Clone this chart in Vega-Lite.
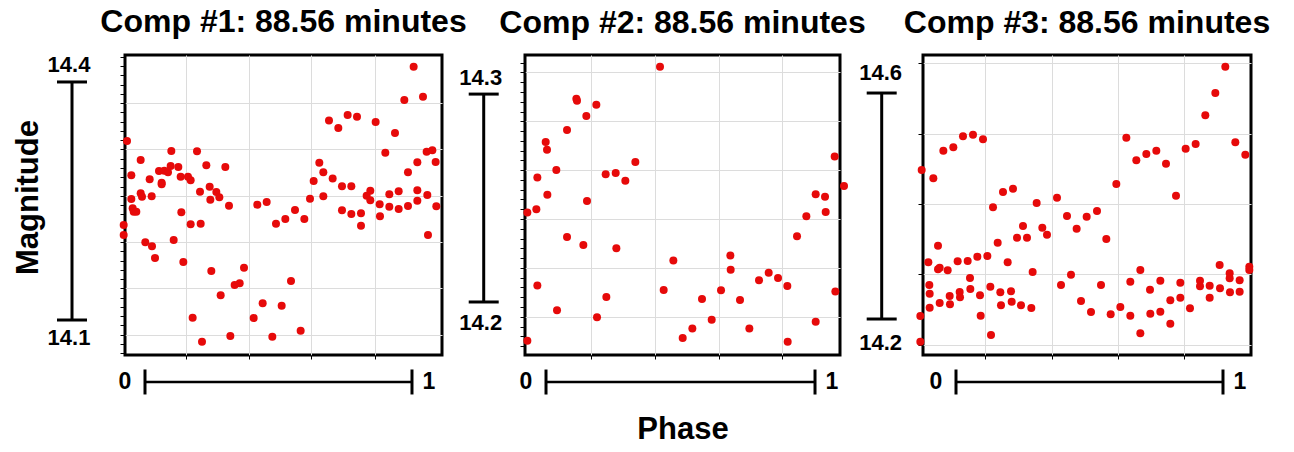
{
  "$schema": "https://vega.github.io/schema/vega-lite/v6.json",
  "padding": {"left": 11, "top": 4, "right": 0, "bottom": 0},
  "bounds": "flush",
  "spacing": 83,
  "config": {
    "font": "Liberation Sans",
    "view": {"stroke": "black", "strokeWidth": 3},
    "axis": {"gridColor": "#dcdcdc", "gridWidth": 1, "tickColor": "black", "tickWidth": 1, "domain": false, "labels": false},
    "title": {"font": "Liberation Sans", "fontSize": 32, "fontWeight": "bold", "color": "black", "anchor": "middle", "offset": 15}
  },
  "datasets": {
    "p1": [
      {"phase":-0.0674,"mag":14.3256},{"phase":-0.0799,"mag":14.2197},{"phase":-0.0799,"mag":14.2071},{"phase":-0.0512,"mag":14.2824},{"phase":-0.0512,"mag":14.2525},{"phase":-0.0462,"mag":14.2408},{"phase":-0.0424,"mag":14.2366},{"phase":-0.0325,"mag":14.2366},{"phase":-0.0162,"mag":14.3017},{"phase":-0.0162,"mag":14.2597},{"phase":-0.0112,"mag":14.2555},{"phase":0.0012,"mag":14.1979},{"phase":0.0175,"mag":14.2773},{"phase":0.025,"mag":14.2559},{"phase":0.0262,"mag":14.1929},{"phase":0.0375,"mag":14.1782},{"phase":0.0524,"mag":14.2878},{"phase":0.0624,"mag":14.2731},{"phase":0.0624,"mag":14.271},{"phase":0.0724,"mag":14.2882},{"phase":0.0861,"mag":14.2861},{"phase":0.0961,"mag":14.2941},{"phase":0.0986,"mag":14.313},{"phase":0.1074,"mag":14.2008},{"phase":0.1248,"mag":14.2929},{"phase":0.1336,"mag":14.2807},{"phase":0.1361,"mag":14.2357},{"phase":0.1436,"mag":14.1731},{"phase":0.161,"mag":14.2807},{"phase":0.171,"mag":14.276},{"phase":0.171,"mag":14.2206},{"phase":0.1785,"mag":14.1029},{"phase":0.1948,"mag":14.3126},{"phase":0.206,"mag":14.2618},{"phase":0.2085,"mag":14.2214},{"phase":0.2135,"mag":14.0727},{"phase":0.2297,"mag":14.295},{"phase":0.2422,"mag":14.2681},{"phase":0.2447,"mag":14.2517},{"phase":0.2484,"mag":14.1618},{"phase":0.2672,"mag":14.2613},{"phase":0.2784,"mag":14.2546},{"phase":0.2834,"mag":14.1311},{"phase":0.3009,"mag":14.2929},{"phase":0.3146,"mag":14.2441},{"phase":0.3196,"mag":14.0798},{"phase":0.3358,"mag":14.1441},{"phase":0.3546,"mag":14.1462},{"phase":0.3708,"mag":14.166},{"phase":0.407,"mag":14.1025},{"phase":0.4207,"mag":14.2454},{"phase":0.4407,"mag":14.121},{"phase":0.4557,"mag":14.2487},{"phase":0.4769,"mag":14.079},{"phase":0.4906,"mag":14.2214},{"phase":0.5119,"mag":14.1181},{"phase":0.5256,"mag":14.2273},{"phase":0.5468,"mag":14.1492},{"phase":0.5618,"mag":14.2387},{"phase":0.583,"mag":14.0866},{"phase":0.5968,"mag":14.2273},{"phase":0.618,"mag":14.2529},{"phase":0.6317,"mag":14.2752},{"phase":0.6529,"mag":14.2983},{"phase":0.6679,"mag":14.2861},{"phase":0.6679,"mag":14.2559},{"phase":0.6891,"mag":14.3513},{"phase":0.7029,"mag":14.2782},{"phase":0.7241,"mag":14.342},{"phase":0.7378,"mag":14.2685},{"phase":0.7378,"mag":14.2382},{"phase":0.759,"mag":14.3584},{"phase":0.7728,"mag":14.2685},{"phase":0.7728,"mag":14.2336},{"phase":0.794,"mag":14.3563},{"phase":0.809,"mag":14.2345},{"phase":0.809,"mag":14.2189},{"phase":0.8302,"mag":14.2567},{"phase":0.8439,"mag":14.263},{"phase":0.8439,"mag":14.2508},{"phase":0.8639,"mag":14.3496},{"phase":0.8789,"mag":14.2458},{"phase":0.8801,"mag":14.2307},{"phase":0.9001,"mag":14.3109},{"phase":0.9151,"mag":14.2584},{"phase":0.9151,"mag":14.2429},{"phase":0.9363,"mag":14.3357},{"phase":0.9501,"mag":14.2622},{"phase":0.9501,"mag":14.2399},{"phase":0.9713,"mag":14.3773},{"phase":0.985,"mag":14.2861},{"phase":0.985,"mag":14.2437},{"phase":1.0062,"mag":14.4193},{"phase":1.02,"mag":14.2987},{"phase":1.02,"mag":14.2634},{"phase":1.02,"mag":14.2504},{"phase":1.0412,"mag":14.3815},{"phase":1.0549,"mag":14.3122},{"phase":1.0574,"mag":14.2576},{"phase":1.0599,"mag":14.2071},{"phase":1.0762,"mag":14.3139},{"phase":1.0886,"mag":14.2992},{"phase":1.0911,"mag":14.2433}
    ],
    "p2": [
      {"phase":-0.0694,"mag":14.2431},{"phase":-0.0694,"mag":14.1814},{"phase":-0.0359,"mag":14.2446},{"phase":-0.0322,"mag":14.2599},{"phase":-0.0322,"mag":14.2079},{"phase":-0.0012,"mag":14.2769},{"phase":0.0037,"mag":14.2732},{"phase":0.005,"mag":14.2516},{"phase":0.0384,"mag":14.2635},{"phase":0.0409,"mag":14.196},{"phase":0.0781,"mag":14.2827},{"phase":0.0781,"mag":14.2313},{"phase":0.1128,"mag":14.2978},{"phase":0.1152,"mag":14.2968},{"phase":0.1388,"mag":14.2274},{"phase":0.1499,"mag":14.2894},{"phase":0.1524,"mag":14.2486},{"phase":0.1871,"mag":14.2949},{"phase":0.1896,"mag":14.1926},{"phase":0.2218,"mag":14.2615},{"phase":0.2243,"mag":14.2024},{"phase":0.259,"mag":14.262},{"phase":0.2615,"mag":14.2258},{"phase":0.2949,"mag":14.2583},{"phase":0.3321,"mag":14.2673},{"phase":0.4238,"mag":14.3131},{"phase":0.4374,"mag":14.2058},{"phase":0.4734,"mag":14.2199},{"phase":0.5081,"mag":14.1827},{"phase":0.544,"mag":14.1873},{"phase":0.5799,"mag":14.2014},{"phase":0.6159,"mag":14.1915},{"phase":0.6506,"mag":14.2056},{"phase":0.6853,"mag":14.2223},{"phase":0.6865,"mag":14.2155},{"phase":0.7212,"mag":14.201},{"phase":0.7559,"mag":14.1872},{"phase":0.7918,"mag":14.2104},{"phase":0.8278,"mag":14.2141},{"phase":0.8625,"mag":14.2115},{"phase":0.8971,"mag":14.2077},{"phase":0.8984,"mag":14.1809},{"phase":0.9331,"mag":14.2316},{"phase":0.9678,"mag":14.2412},{"phase":1.0025,"mag":14.2518},{"phase":1.0025,"mag":14.1905},{"phase":1.0372,"mag":14.2506},{"phase":1.0397,"mag":14.2433},{"phase":1.0731,"mag":14.27},{"phase":1.0756,"mag":14.2051},{"phase":1.1078,"mag":14.2558}
    ],
    "p3": [
      {"phase":-0.1286,"mag":14.4637},{"phase":-0.1336,"mag":14.2053},{"phase":-0.1336,"mag":14.1599},{"phase":-0.1036,"mag":14.3003},{"phase":-0.0999,"mag":14.2602},{"phase":-0.0986,"mag":14.2448},{"phase":-0.0986,"mag":14.2201},{"phase":-0.0849,"mag":14.449},{"phase":-0.0674,"mag":14.3298},{"phase":-0.0674,"mag":14.2879},{"phase":-0.0612,"mag":14.2909},{"phase":-0.0612,"mag":14.2283},{"phase":-0.0474,"mag":14.4979},{"phase":-0.0312,"mag":14.2861},{"phase":-0.0237,"mag":14.2407},{"phase":-0.0225,"mag":14.226},{"phase":-0.01,"mag":14.5038},{"phase":0.0062,"mag":14.3021},{"phase":0.0137,"mag":14.2478},{"phase":0.015,"mag":14.2384},{"phase":0.0262,"mag":14.5233},{"phase":0.0437,"mag":14.3027},{"phase":0.0524,"mag":14.2726},{"phase":0.0537,"mag":14.2531},{"phase":0.0637,"mag":14.5263},{"phase":0.0799,"mag":14.3103},{"phase":0.0899,"mag":14.2419},{"phase":0.0924,"mag":14.2059},{"phase":0.1011,"mag":14.518},{"phase":0.1174,"mag":14.3115},{"phase":0.1286,"mag":14.2572},{"phase":0.1311,"mag":14.1717},{"phase":0.1386,"mag":14.3977},{"phase":0.1561,"mag":14.3351},{"phase":0.166,"mag":14.2472},{"phase":0.1685,"mag":14.2242},{"phase":0.176,"mag":14.4248},{"phase":0.1935,"mag":14.3003},{"phase":0.206,"mag":14.249},{"phase":0.2085,"mag":14.2307},{"phase":0.2135,"mag":14.4307},{"phase":0.2285,"mag":14.344},{"phase":0.2434,"mag":14.2242},{"phase":0.2509,"mag":14.3646},{"phase":0.2659,"mag":14.344},{"phase":0.2821,"mag":14.2195},{"phase":0.2871,"mag":14.2832},{"phase":0.3021,"mag":14.4053},{"phase":0.3233,"mag":14.3617},{"phase":0.3408,"mag":14.3493},{"phase":0.3783,"mag":14.4148},{"phase":0.3933,"mag":14.2602},{"phase":0.4157,"mag":14.3823},{"phase":0.4307,"mag":14.2785},{"phase":0.4519,"mag":14.3599},{"phase":0.4682,"mag":14.2319},{"phase":0.4894,"mag":14.3811},{"phase":0.5056,"mag":14.2124},{"phase":0.5281,"mag":14.3912},{"phase":0.5431,"mag":14.2602},{"phase":0.563,"mag":14.3416},{"phase":0.5793,"mag":14.2083},{"phase":0.6005,"mag":14.439},{"phase":0.6155,"mag":14.2212},{"phase":0.638,"mag":14.521},{"phase":0.6529,"mag":14.2661},{"phase":0.6529,"mag":14.2059},{"phase":0.6754,"mag":14.4808},{"phase":0.6904,"mag":14.2867},{"phase":0.6904,"mag":14.1746},{"phase":0.7129,"mag":14.4921},{"phase":0.7266,"mag":14.2519},{"phase":0.7278,"mag":14.2094},{"phase":0.7503,"mag":14.4979},{"phase":0.7653,"mag":14.2679},{"phase":0.7653,"mag":14.213},{"phase":0.7865,"mag":14.4749},{"phase":0.8027,"mag":14.233},{"phase":0.8027,"mag":14.1917},{"phase":0.824,"mag":14.4183},{"phase":0.8402,"mag":14.2643},{"phase":0.8402,"mag":14.2378},{"phase":0.8602,"mag":14.5015},{"phase":0.8764,"mag":14.2189},{"phase":0.8976,"mag":14.5098},{"phase":0.9139,"mag":14.2679},{"phase":0.9139,"mag":14.2578},{"phase":0.9338,"mag":14.5605},{"phase":0.9501,"mag":14.259},{"phase":0.9501,"mag":14.2378},{"phase":0.9713,"mag":14.6},{"phase":0.9875,"mag":14.2956},{"phase":0.9888,"mag":14.2543},{"phase":1.0087,"mag":14.6466},{"phase":1.025,"mag":14.2808},{"phase":1.025,"mag":14.272},{"phase":1.0262,"mag":14.2472},{"phase":1.0462,"mag":14.5127},{"phase":1.0624,"mag":14.2684},{"phase":1.0624,"mag":14.2484},{"phase":1.0836,"mag":14.4909},{"phase":1.0986,"mag":14.2926},{"phase":1.0986,"mag":14.2867}
    ]
  },
  "hconcat": [
    {
      "width": 317, "height": 300,
      "title": "Comp #1: 88.56 minutes",
      "data": {"values": [{}]},
      "resolve": {"axis": {"x": "independent", "y": "independent"}},
      "layer": [
        {"data": {"name": "p1"},
         "mark": {"type": "circle", "size": 64, "color": "#e60a0a", "opacity": 1},
         "encoding": {
           "x": {"field": "phase", "type": "quantitative", "scale": {"domain": [-0.0749, 1.1124], "nice": false, "zero": false},
                 "axis": {"values": [0.1536, 0.3904, 0.6227, 0.86], "grid": true, "ticks": true, "tickSize": 4, "title": null}},
           "y": {"field": "mag", "type": "quantitative", "scale": {"domain": [14.0559, 14.434], "nice": false, "zero": false},
                 "axis": {"values": [14.0582,14.0698,14.0815,14.0932,14.1048,14.1165,14.1282,14.1399,14.1515,14.1632,14.1749,14.1865,14.1982,14.2099,14.2216,14.2332,14.2449,14.2566,14.2682,14.2799,14.2916,14.3033,14.3149,14.3266,14.3383,14.3499,14.3616,14.3733,14.385,14.3966,14.4083,14.42,14.4316],
                          "grid": false, "ticks": true, "tickSize": 5, "title": "Magnitude", "titleFontSize": 31, "titleFontWeight": "bold", "titleFont": "Liberation Sans", "titleColor": "black", "titlePadding": 75, "titleY": 142}}
         }},
        {"mark": {"type": "rule", "color": "black", "strokeWidth": 3},
         "encoding": {
           "x": {"datum": -0.2734, "type": "quantitative", "axis": null},
           "y": {"datum": 14.1, "type": "quantitative", "axis": {"orient": "right", "values": [14.0815, 14.1399, 14.1982, 14.2566, 14.3149, 14.3733], "grid": true, "ticks": false, "title": null}},
           "y2": {"datum": 14.4}
         }},
        {"mark": {"type": "tick", "orient": "horizontal", "color": "black", "size": 30, "thickness": 3, "opacity": 1},
         "encoding": {"x": {"datum": -0.2734, "type": "quantitative", "axis": null}, "y": {"datum": 14.1, "type": "quantitative", "axis": null}}},
        {"mark": {"type": "tick", "orient": "horizontal", "color": "black", "size": 30, "thickness": 3, "opacity": 1},
         "encoding": {"x": {"datum": -0.2734, "type": "quantitative", "axis": null}, "y": {"datum": 14.4, "type": "quantitative", "axis": null}}},
        {"mark": {"type": "text", "text": "14.1", "fontSize": 22, "fontWeight": "bold", "color": "black", "dy": 18, "dx": -3, "baseline": "middle", "align": "center"},
         "encoding": {"x": {"datum": -0.2734, "type": "quantitative", "axis": null}, "y": {"datum": 14.1, "type": "quantitative", "axis": null}}},
        {"mark": {"type": "text", "text": "14.4", "fontSize": 22, "fontWeight": "bold", "color": "black", "dy": -17, "dx": -3, "baseline": "middle", "align": "center"},
         "encoding": {"x": {"datum": -0.2734, "type": "quantitative", "axis": null}, "y": {"datum": 14.4, "type": "quantitative", "axis": null}}},
        {"mark": {"type": "rule", "color": "black", "strokeWidth": 2.5},
         "encoding": {"x": {"datum": 0, "type": "quantitative", "axis": null}, "x2": {"datum": 1}, "y": {"datum": 14.0219, "type": "quantitative", "axis": null}}},
        {"mark": {"type": "tick", "orient": "vertical", "color": "black", "size": 25, "thickness": 3, "opacity": 1},
         "encoding": {"x": {"datum": 0, "type": "quantitative", "axis": null}, "y": {"datum": 14.0219, "type": "quantitative", "axis": null}}},
        {"mark": {"type": "tick", "orient": "vertical", "color": "black", "size": 25, "thickness": 3, "opacity": 1},
         "encoding": {"x": {"datum": 1, "type": "quantitative", "axis": null}, "y": {"datum": 14.0219, "type": "quantitative", "axis": null}}},
        {"mark": {"type": "text", "text": "0", "fontSize": 23, "fontWeight": "bold", "color": "black", "dx": -20, "baseline": "middle", "align": "center"},
         "encoding": {"x": {"datum": 0, "type": "quantitative", "axis": null}, "y": {"datum": 14.0219, "type": "quantitative", "axis": null}}},
        {"mark": {"type": "text", "text": "1", "fontSize": 23, "fontWeight": "bold", "color": "black", "dx": 17, "baseline": "middle", "align": "center"},
         "encoding": {"x": {"datum": 1, "type": "quantitative", "axis": null}, "y": {"datum": 14.0219, "type": "quantitative", "axis": null}}}
      ]
    },
    {
      "width": 315, "height": 300,
      "title": "Comp #2: 88.56 minutes",
      "data": {"values": [{}]},
      "resolve": {"axis": {"x": "independent", "y": "independent"}},
      "layer": [
        {"data": {"name": "p2"},
         "mark": {"type": "circle", "size": 64, "color": "#e60a0a", "opacity": 1},
         "encoding": {
           "x": {"field": "phase", "type": "quantitative", "scale": {"domain": [-0.0781, 1.0929], "nice": false, "zero": false},
                 "axis": {"values": [0.1684, 0.4041, 0.6431, 0.8785], "grid": true, "ticks": true, "tickSize": 4, "title": "Phase", "titleFontSize": 31, "titleFontWeight": "bold", "titleFont": "Liberation Sans", "titleColor": "black", "titlePadding": 55}},
           "y": {"field": "mag", "type": "quantitative", "scale": {"domain": [14.1745, 14.3188], "nice": false, "zero": false},
                 "axis": {"values": [14.1788,14.1835,14.1882,14.1929,14.1976,14.2023,14.207,14.2117,14.2164,14.2211,14.2258,14.2305,14.2352,14.2399,14.2446,14.2493,14.254,14.2587,14.2634,14.2681,14.2728,14.2775,14.2822,14.2869,14.2916,14.2963,14.301,14.3057,14.3104,14.3151],
                          "grid": false, "ticks": true, "tickSize": 5, "title": null}}
         }},
        {"mark": {"type": "rule", "color": "black", "strokeWidth": 3},
         "encoding": {
           "x": {"datum": -0.2316, "type": "quantitative", "axis": null},
           "y": {"datum": 14.2, "type": "quantitative", "axis": {"orient": "right", "values": [14.1929, 14.2165, 14.2399, 14.2635, 14.287, 14.3104], "grid": true, "ticks": false, "title": null}},
           "y2": {"datum": 14.3}
         }},
        {"mark": {"type": "tick", "orient": "horizontal", "color": "black", "size": 30, "thickness": 3, "opacity": 1},
         "encoding": {"x": {"datum": -0.2316, "type": "quantitative", "axis": null}, "y": {"datum": 14.2, "type": "quantitative", "axis": null}}},
        {"mark": {"type": "tick", "orient": "horizontal", "color": "black", "size": 30, "thickness": 3, "opacity": 1},
         "encoding": {"x": {"datum": -0.2316, "type": "quantitative", "axis": null}, "y": {"datum": 14.3, "type": "quantitative", "axis": null}}},
        {"mark": {"type": "text", "text": "14.2", "fontSize": 22, "fontWeight": "bold", "color": "black", "dy": 21, "dx": -3, "baseline": "middle", "align": "center"},
         "encoding": {"x": {"datum": -0.2316, "type": "quantitative", "axis": null}, "y": {"datum": 14.2, "type": "quantitative", "axis": null}}},
        {"mark": {"type": "text", "text": "14.3", "fontSize": 22, "fontWeight": "bold", "color": "black", "dy": -16, "dx": -3, "baseline": "middle", "align": "center"},
         "encoding": {"x": {"datum": -0.2316, "type": "quantitative", "axis": null}, "y": {"datum": 14.3, "type": "quantitative", "axis": null}}},
        {"mark": {"type": "rule", "color": "black", "strokeWidth": 2.5},
         "encoding": {"x": {"datum": 0, "type": "quantitative", "axis": null}, "x2": {"datum": 1}, "y": {"datum": 14.1615, "type": "quantitative", "axis": null}}},
        {"mark": {"type": "tick", "orient": "vertical", "color": "black", "size": 25, "thickness": 3, "opacity": 1},
         "encoding": {"x": {"datum": 0, "type": "quantitative", "axis": null}, "y": {"datum": 14.1615, "type": "quantitative", "axis": null}}},
        {"mark": {"type": "tick", "orient": "vertical", "color": "black", "size": 25, "thickness": 3, "opacity": 1},
         "encoding": {"x": {"datum": 1, "type": "quantitative", "axis": null}, "y": {"datum": 14.1615, "type": "quantitative", "axis": null}}},
        {"mark": {"type": "text", "text": "0", "fontSize": 23, "fontWeight": "bold", "color": "black", "dx": -20, "baseline": "middle", "align": "center"},
         "encoding": {"x": {"datum": 0, "type": "quantitative", "axis": null}, "y": {"datum": 14.1615, "type": "quantitative", "axis": null}}},
        {"mark": {"type": "text", "text": "1", "fontSize": 23, "fontWeight": "bold", "color": "black", "dx": 17, "baseline": "middle", "align": "center"},
         "encoding": {"x": {"datum": 1, "type": "quantitative", "axis": null}, "y": {"datum": 14.1615, "type": "quantitative", "axis": null}}}
      ]
    },
    {
      "width": 328, "height": 300,
      "title": "Comp #3: 88.56 minutes",
      "data": {"values": [{}]},
      "resolve": {"axis": {"x": "independent", "y": "independent"}},
      "layer": [
        {"data": {"name": "p3"},
         "mark": {"type": "circle", "size": 64, "color": "#e60a0a", "opacity": 1},
         "encoding": {
           "x": {"field": "phase", "type": "quantitative", "scale": {"domain": [-0.1236, 1.1049], "nice": false, "zero": false},
                 "axis": {"values": [0.1099, 0.3596, 0.6056, 0.8528], "grid": true, "ticks": true, "tickSize": 4, "title": null}},
           "y": {"field": "mag", "type": "quantitative", "scale": {"domain": [14.1363, 14.6673], "nice": false, "zero": false},
                 "axis": {"values": [14.154, 14.2791, 14.403, 14.5269, 14.6526], "grid": true, "ticks": true, "tickSize": 5, "title": null}}
         }},
        {"mark": {"type": "rule", "color": "black", "strokeWidth": 3},
         "encoding": {
           "x": {"datum": -0.2783, "type": "quantitative", "axis": null},
           "y": {"datum": 14.2, "type": "quantitative", "axis": null},
           "y2": {"datum": 14.6}
         }},
        {"mark": {"type": "tick", "orient": "horizontal", "color": "black", "size": 30, "thickness": 3, "opacity": 1},
         "encoding": {"x": {"datum": -0.2783, "type": "quantitative", "axis": null}, "y": {"datum": 14.2, "type": "quantitative", "axis": null}}},
        {"mark": {"type": "tick", "orient": "horizontal", "color": "black", "size": 30, "thickness": 3, "opacity": 1},
         "encoding": {"x": {"datum": -0.2783, "type": "quantitative", "axis": null}, "y": {"datum": 14.6, "type": "quantitative", "axis": null}}},
        {"mark": {"type": "text", "text": "14.2", "fontSize": 22, "fontWeight": "bold", "color": "black", "dy": 24, "dx": -1, "baseline": "middle", "align": "center"},
         "encoding": {"x": {"datum": -0.2783, "type": "quantitative", "axis": null}, "y": {"datum": 14.2, "type": "quantitative", "axis": null}}},
        {"mark": {"type": "text", "text": "14.6", "fontSize": 22, "fontWeight": "bold", "color": "black", "dy": -20, "dx": -1, "baseline": "middle", "align": "center"},
         "encoding": {"x": {"datum": -0.2783, "type": "quantitative", "axis": null}, "y": {"datum": 14.6, "type": "quantitative", "axis": null}}},
        {"mark": {"type": "rule", "color": "black", "strokeWidth": 2.5},
         "encoding": {"x": {"datum": 0, "type": "quantitative", "axis": null}, "x2": {"datum": 1}, "y": {"datum": 14.0885, "type": "quantitative", "axis": null}}},
        {"mark": {"type": "tick", "orient": "vertical", "color": "black", "size": 25, "thickness": 3, "opacity": 1},
         "encoding": {"x": {"datum": 0, "type": "quantitative", "axis": null}, "y": {"datum": 14.0885, "type": "quantitative", "axis": null}}},
        {"mark": {"type": "tick", "orient": "vertical", "color": "black", "size": 25, "thickness": 3, "opacity": 1},
         "encoding": {"x": {"datum": 1, "type": "quantitative", "axis": null}, "y": {"datum": 14.0885, "type": "quantitative", "axis": null}}},
        {"mark": {"type": "text", "text": "0", "fontSize": 23, "fontWeight": "bold", "color": "black", "dx": -20, "baseline": "middle", "align": "center"},
         "encoding": {"x": {"datum": 0, "type": "quantitative", "axis": null}, "y": {"datum": 14.0885, "type": "quantitative", "axis": null}}},
        {"mark": {"type": "text", "text": "1", "fontSize": 23, "fontWeight": "bold", "color": "black", "dx": 17, "baseline": "middle", "align": "center"},
         "encoding": {"x": {"datum": 1, "type": "quantitative", "axis": null}, "y": {"datum": 14.0885, "type": "quantitative", "axis": null}}}
      ]
    }
  ]
}
